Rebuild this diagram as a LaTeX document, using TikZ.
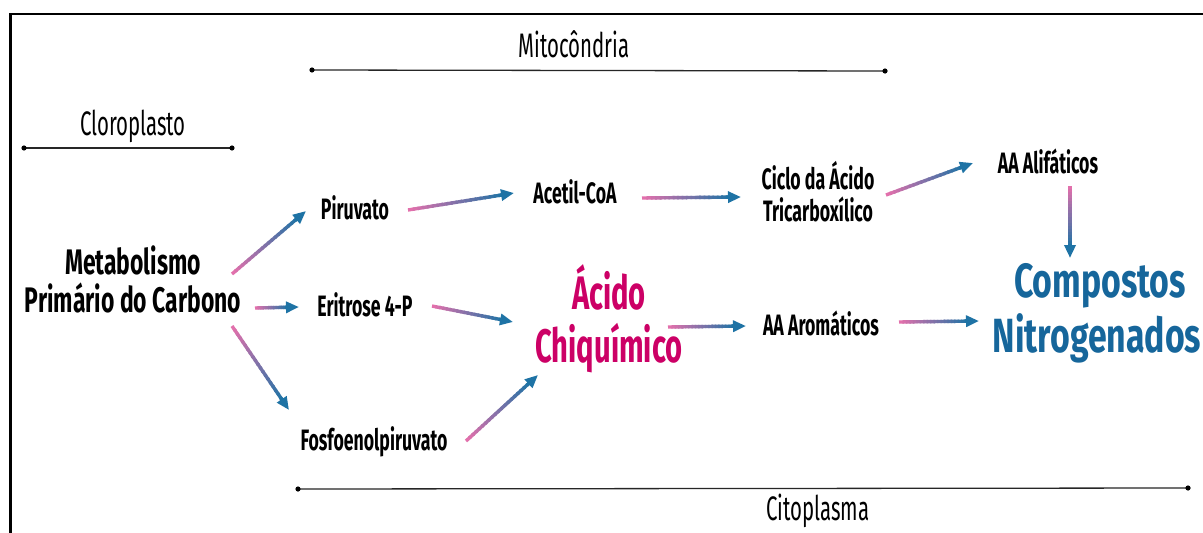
\documentclass[tikz,border=0pt]{standalone}
\usepackage{fontspec}
\setmainfont{Fira Sans}[FakeStretch=0.6]
\newfontfamily\thinf{Fira Sans}[FakeStretch=0.6]
\newfontfamily\fmeta{Fira Sans}[FakeStretch=0.645]
\newfontfamily\facid{Fira Sans}[FakeStretch=0.62]
\newfontfamily\fcomp{Fira Sans}[FakeStretch=0.705]
\usetikzlibrary{calc,arrows.meta}
\definecolor{abl}{RGB}{30,115,165}
\definecolor{apk}{RGB}{232,112,172}
\definecolor{mag}{RGB}{204,0,102}
\definecolor{nbl}{RGB}{22,102,155}
\newcommand\gradarrow[2]{%
  \coordinate (gEnd) at ($(#2)!11pt!(#1)$);
  \foreach \i in {0,...,19}{%
    \pgfmathtruncatemacro\pc{\i*5+3}%
    \draw[line width=3.4pt, draw=abl!\pc!apk] ($(#1)!{\i/20}!(gEnd)$) -- ($(#1)!{min(1,(\i+1.4)/20)}!(gEnd)$);
  }
  \draw[line width=3.4pt, abl, -{Triangle[length=13pt,width=11pt]}] ($(#2)!14pt!(#1)$) -- (#2);
}
\begin{document}
\begin{tikzpicture}[x=1pt,y=-1pt,
  lbl/.style={inner sep=0pt, anchor=base, font=\bfseries\fontsize{29.5}{32}\selectfont},
  big/.style={inner sep=0pt, anchor=base, font=\fmeta\bfseries\fontsize{35.5}{38}\selectfont},
  acid/.style={inner sep=0pt, anchor=base, text=mag, font=\facid\bfseries\fontsize{47}{52}\selectfont},
  comp/.style={inner sep=0pt, anchor=base, text=nbl, font=\fcomp\bfseries\fontsize{48}{52}\selectfont},
  region/.style={inner sep=0pt, anchor=base, font=\thinf\fontsize{34}{38}\selectfont},
  rline/.style={line width=1.3pt, black!85},
  dot/.style={fill=black}]
\useasboundingbox (0,0) rectangle (1203,533);
\fill[white] (0,0) rectangle (1203,533);
% frame
\draw[line width=2.6pt] (10.5,533) -- (10.5,14) -- (1205,14);
% regions
\node[region] (mito) at (574,57) {Mitocôndria};
\coordinate (m1) at (312,70); \coordinate (m2) at (885,71);
\draw[rline] (m1) -- (m2); \fill[dot] (m1) circle (2.6); \fill[dot] (m2) circle (2.6);
\node[region] (cloro) at (133,135) {Cloroplasto};
\coordinate (c1) at (24,148); \coordinate (c2) at (232,148);
\draw[rline] (c1) -- (c2); \fill[dot] (c1) circle (2.6); \fill[dot] (c2) circle (2.6);
\node[region] (cito) at (818,520) {Citoplasma};
\coordinate (t1) at (298,489); \coordinate (t2) at (1188,488);
\draw[rline] (t1) -- (t2); \fill[dot] (t1) circle (2.6); \fill[dot] (t2) circle (2.6);
% nodes
\node[big] (meta1) at (133,274) {Metabolismo};
\node[big] (meta2) at (133,312) {Primário do Carbono};
\node[lbl] (piru) at (355,219) {Piruvato};
\node[lbl] (eri) at (365,316) {Eritrose 4-P};
\node[lbl] (fos) at (374,450) {Fosfoenolpiruvato};
\node[lbl] (acet) at (575,203) {Acetil-CoA};
\node[lbl] (ciclo1) at (818,189) {Ciclo da Ácido};
\node[lbl] (ciclo2) at (818,221) {Tricarboxílico};
\node[lbl] (ali) at (1048,173) {AA Alifáticos};
\node[lbl] (aro) at (821,335) {AA Aromáticos};
\node[acid] (acido1) at (609,309) {Ácido};
\node[acid] (acido2) at (609,362) {Chiquímico};
\node[comp] (comp1) at (1100,297) {Compostos};
\node[comp] (comp2) at (1097,352) {Nitrogenados};
% arrow endpoints
\coordinate (a1s) at (232,274); \coordinate (a1e) at (306,211);
\coordinate (a2s) at (255,308); \coordinate (a2e) at (299,307);
\coordinate (a3s) at (232,326); \coordinate (a3e) at (289,410);
\coordinate (a4s) at (408,210); \coordinate (a4e) at (514,193);
\coordinate (a5s) at (432,306); \coordinate (a5e) at (513,322);
\coordinate (a6s) at (466,441); \coordinate (a6e) at (538,375);
\coordinate (a7s) at (642,198); \coordinate (a7e) at (741,197);
\coordinate (a8s) at (886,195); \coordinate (a8e) at (973,163);
\coordinate (a9s) at (1070,186); \coordinate (a9e) at (1070,258);
\coordinate (a10s) at (668,327); \coordinate (a10e) at (746,326);
\coordinate (a11s) at (899,322); \coordinate (a11e) at (979,321);
\gradarrow{a1s}{a1e}
\gradarrow{a2s}{a2e}
\gradarrow{a3s}{a3e}
\gradarrow{a4s}{a4e}
\gradarrow{a5s}{a5e}
\gradarrow{a6s}{a6e}
\gradarrow{a7s}{a7e}
\gradarrow{a8s}{a8e}
\gradarrow{a9s}{a9e}
\gradarrow{a10s}{a10e}
\gradarrow{a11s}{a11e}
\end{tikzpicture}
\end{document}
